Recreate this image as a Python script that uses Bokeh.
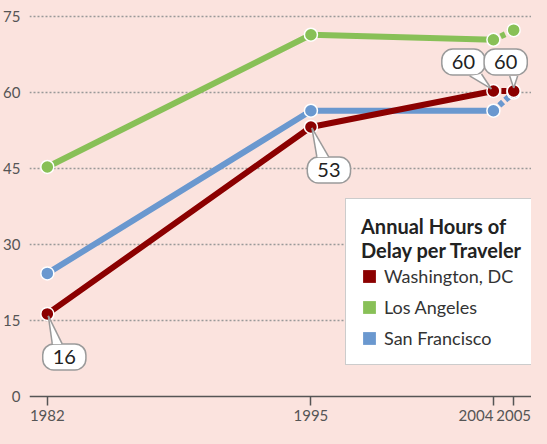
from bokeh.plotting import figure
from bokeh.models import Range1d, FixedTicker, Legend, LegendItem
from bokeh.embed import file_html
from bokeh.resources import INLINE
from bokeh.core.properties import value

# ---- data ----
years = [1982, 1995, 2004, 2005]
washington = [16.3, 53.2, 60.3, 60.3]
los_angeles = [45.3, 71.4, 70.4, 72.3]
san_francisco = [24.3, 56.4, 56.4, 60.0]
series_names = ["Washington, DC", "Los Angeles", "San Francisco"]
y_ticks = [0, 15, 30, 45, 60, 75]
callout_labels = ["16", "53", "60", "60"]
legend_title = "Annual Hours of\nDelay per Traveler"

# ---- style ----
BG = "#fbe3de"
COLORS = ["#8b0000", "#88c057", "#6a98cf"]
FONT = "Lato"
W, H = 531, 428
BL, BR, BT, BB = 24, 0, 0, 0
X0, X1 = 1981.121, 2005.879
Y0, Y1 = -6.316, 78.158
TICK_OUT, STANDOFF = 9, 5

p = figure(width=W, height=H, output_backend="svg", toolbar_location=None,
           x_range=Range1d(X0, X1), y_range=Range1d(Y0, Y1),
           min_border_left=BL, min_border_right=BR, min_border_top=BT, min_border_bottom=BB)
p.background_fill_color = BG
p.border_fill_color = BG
p.outline_line_color = None

# x axis drawn at y = 0
xa = p.xaxis[0]
xa.fixed_location = 0
xa.ticker = FixedTicker(ticks=years)
xa.major_label_overrides = {years[2]: ""}
xa.axis_line_color = "#555555"
xa.axis_line_width = 1.5
xa.major_tick_line_color = "#555555"
xa.major_tick_line_width = 1.5
xa.major_tick_in = 0
xa.major_tick_out = TICK_OUT
xa.minor_tick_line_color = None
xa.major_label_standoff = STANDOFF
xa.major_label_text_font = FONT
xa.major_label_text_font_size = "15px"
xa.major_label_text_color = "#555555"

ya = p.yaxis[0]
ya.ticker = FixedTicker(ticks=y_ticks)
ya.axis_line_color = None
ya.major_tick_line_color = None
ya.minor_tick_line_color = None
ya.major_label_standoff = 3
ya.major_label_text_font = FONT
ya.major_label_text_font_size = "15px"
ya.major_label_text_color = "#555555"

p.xgrid.grid_line_color = None
p.ygrid.ticker = FixedTicker(ticks=[t for t in y_ticks if t > 0])
p.ygrid.grid_line_color = "#999999"
p.ygrid.grid_line_width = 1.6
p.ygrid.grid_line_dash = "2 2"

# 2004 tick label, right-aligned to its tick (avoids overlap with 2005)
p.text(x=[years[2]], y=[0], text=[str(years[2])], x_offset=0, y_offset=TICK_OUT + STANDOFF,
       anchor="top_right", text_font=value(FONT), text_font_size="15px", text_color="#555555")

# series
all_series = [washington, los_angeles, san_francisco]
draw_order = [2, 1, 0]
for i in draw_order:
    vals = all_series[i]
    c = COLORS[i]
    p.line(years[:3], vals[:3], line_color=c, line_width=6, line_join="round")
    p.line(years[2:], vals[2:], line_color=c, line_width=6, line_dash="5 3")
for i in draw_order:
    vals = all_series[i]
    p.scatter(years, vals, size=13, fill_color=COLORS[i], line_color="white", line_width=1.5)

# callouts (all on Washington series)
SX = (W - BL - BR) / (X1 - X0)
SY = (H - BT - BB) / (Y1 - Y0)
box_off = [(17, 43), (18, 43), (-30, -29), (-8, -29)]
base_off = [((5, 30), (15, 30)), ((6, 30), (18, 30)), ((-24, -15), (-12, -17)), ((-4, -15), (4, -15))]
tip_off = [(1, 2), (1, 1), (-2, -2), (0, -3)]

cx = years
cy = washington
p.text(x=cx, y=cy, text=callout_labels,
       x_offset=[b[0] for b in box_off], y_offset=[b[1] for b in box_off],
       anchor="center", text_font=value(FONT), text_font_size="20px", text_color="#222222",
       padding=(10, 6), border_radius=11,
       background_fill_color="white", border_line_color="#9a9a9a", border_line_width=1.5)

pxs, pys, l1x, l1y = [], [], [], []
for k in range(len(cx)):
    x0, y0 = cx[k], cy[k]
    def conv(o):
        return x0 + o[0] / SX, y0 - o[1] / SY
    t = conv(tip_off[k])
    a = conv(base_off[k][0])
    b = conv(base_off[k][1])
    pxs.append([a[0], t[0], b[0]])
    pys.append([a[1], t[1], b[1]])
    l1x += [[a[0], t[0]], [b[0], t[0]]]
    l1y += [[a[1], t[1]], [b[1], t[1]]]
p.patches(pxs, pys, fill_color="white", line_color=None)
p.multi_line(l1x, l1y, line_color="#9a9a9a", line_width=1.5)

# legend (zero-size quads give square swatches)
items = []
for i, name in enumerate(series_names):
    vals = all_series[i]
    r = p.quad(left=years, right=years, bottom=vals, top=vals,
               fill_color=COLORS[i], line_color=None)
    items.append(LegendItem(label=name, renderers=[r]))
legend = Legend(items=items, location=(316, 63), title=legend_title,
                title_text_font=FONT, title_text_font_style="bold", title_text_font_size="20px",
                title_text_color="#222222", title_standoff=3,
                label_text_font=FONT, label_text_font_size="18px", label_text_color="#333333",
                glyph_width=16, glyph_height=16, label_standoff=7, spacing=9,
                padding=15, border_line_color="#999999", border_line_width=1.5,
                background_fill_color="white", background_fill_alpha=1.0)
p.add_layout(legend)

html = file_html(p, INLINE)
html = html.replace("</head>", "<style>body{background:%s;}</style></head>" % BG, 1)
open("out.html", "w").write(html)
